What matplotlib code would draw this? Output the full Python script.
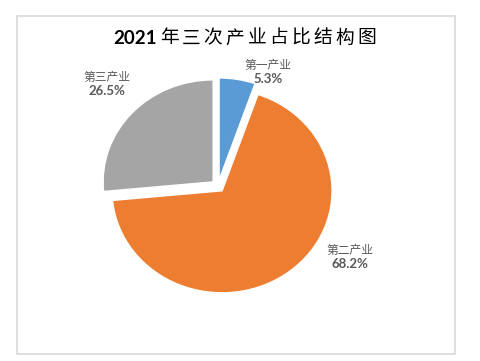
import matplotlib
matplotlib.use('Agg')
import matplotlib.pyplot as plt
from matplotlib.patches import Rectangle

plt.rcParams['font.family'] = ['Noto Sans CJK SC', 'DejaVu Sans']

# data
categories = ['第一产业', '第二产业', '第三产业']
shares = [5.3, 68.2, 26.5]
colors = ['#5B9BD5', '#ED7D31', '#A5A5A5']
title_year = '2021'
title_text = '年三次产业占比结构图'

W, H = 481, 361
fig = plt.figure(figsize=(W / 100, H / 100), dpi=100)

def px(x, y):
    # pixel position (from top-left) -> figure fraction
    return x / W, 1 - y / H

# pie centre and radii in pixels (the original is stretched sideways a bit)
cx, cy = 218, 186
rx, ry = 110, 102
ax = fig.add_axes([0, 0, 1, 1])
ax.pie(shares, colors=colors, startangle=90, counterclock=False,
       explode=[0.06] * len(shares),
       wedgeprops=dict(edgecolor='white', linewidth=1))
ax.set_aspect('auto')
ax.set_xlim(-cx / rx, (W - cx) / rx)
ax.set_ylim(-(H - cy) / ry, cy / ry)
ax.axis('off')

# chart border
fig.patches.append(Rectangle(px(17, 354), 438 / W, 338 / H, transform=fig.transFigure,
                             fill=False, edgecolor='#D9D9D9', linewidth=1.2))

# title: bold year + widely spaced chinese characters
fig.text(*px(157, 38), title_year, ha='right', va='center', fontsize=13.5,
         fontweight='bold', family=['Lato', 'DejaVu Sans'], color='black')
for i, ch in enumerate(title_text):
    fig.text(*px(169 + 22 * i, 38), ch, ha='center', va='center', fontsize=13.5,
             color='black')

# data labels (name on top, percent below)
label_xy = [(268, 65), (350, 250), (107, 77)]
for name, v, (lx, ly) in zip(categories, shares, label_xy):
    fig.text(*px(lx, ly), name, ha='center', va='center', fontsize=8.5, color='#595959')
    fig.text(*px(lx, ly + 14), f'{v:.1f}%', ha='center', va='center', fontsize=9.5,
             fontweight='bold', family=['Lato', 'DejaVu Sans'], color='#595959')

fig.savefig('out.png', dpi=100, facecolor='white')
